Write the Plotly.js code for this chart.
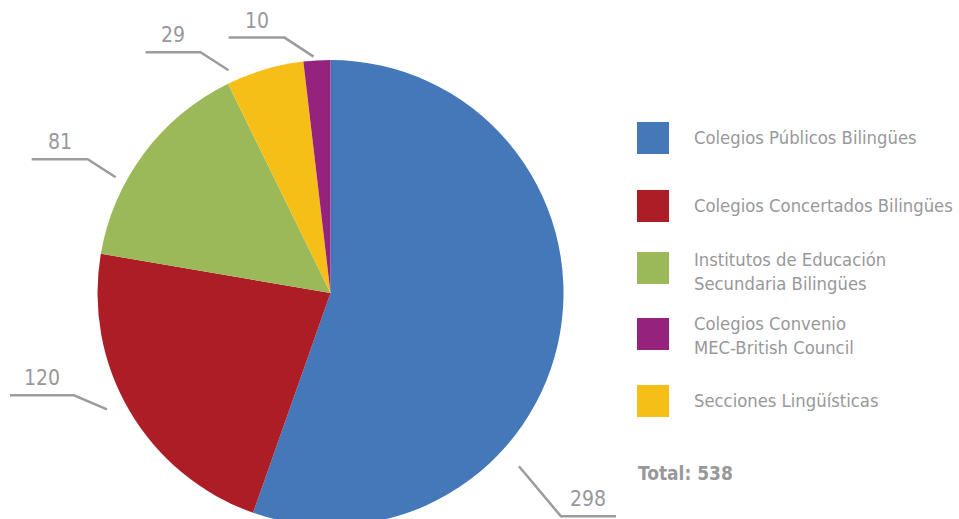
<!DOCTYPE html>
<html>
<head>
<meta charset="utf-8">
<script src="https://cdn.plot.ly/plotly-3.0.1.min.js"></script>
<style>html,body{margin:0;padding:0;overflow:hidden;background:#fff;}#chart{width:959px;height:540px;}</style>
</head>
<body>
<div id="chart"></div>
<script>
// ---- data ----
const sliceLabels = ["Colegios Públicos Bilingües", "Colegios Concertados Bilingües", "Institutos de Educación Secundaria Bilingües", "Secciones Lingüísticas", "Colegios Convenio MEC-British Council"];
const sliceValues = [298, 120, 81, 29, 10];
const sliceColors = ["#4478B9", "#AD1D25", "#9BB958", "#F5BF17", "#93237C"];
const legendLabels = ["Colegios Públicos Bilingües", "Colegios Concertados Bilingües", "Institutos de Educación<br>Secundaria Bilingües", "Colegios Convenio<br>MEC-British Council", "Secciones Lingüísticas"];
const legendColors = ["#4478B9", "#AD1D25", "#9BB958", "#93237C", "#F5BF17"];
const totalLabel = "Total: 538";

// ---- layout constants ----
const W = 959, H = 540;
const CX = 330.5, CY = 293, R = 233;
const FONT = "'Liberation Sans Narrow', 'Arial Narrow', 'DejaVu Sans Condensed', sans-serif";
const GRAY = "#98989B";
const px = x => x / W, py = y => 1 - y / H;

// label leader geometry per slice (angle clockwise from top, distance from centre, diagonal vector, horizontal length)
const leader = [
  {a: 132.6, d: 256, dx: 42, dy: 50, h: 55},
  {a: 242.5, d: 252, dx: -33, dy: -14, h: -64},
  {a: 298.3, d: 244, dx: -28, dy: -18, h: -56},
  {a: 335.4, d: 245, dx: -28, dy: -18, h: -55},
  {a: 355.9, d: 237, dx: -29, dy: -19, h: -56}
];

const shapes = [], annotations = [];
sliceValues.forEach((v, i) => {
  const g = leader[i];
  const t = g.a * Math.PI / 180;
  const x0 = CX + g.d * Math.sin(t), y0 = CY - g.d * Math.cos(t);
  const x1 = x0 + g.dx, y1 = y0 + g.dy;
  const x2 = x1 + g.h, y2 = y1;
  shapes.push({type: "path", xref: "paper", yref: "paper",
    path: `M ${px(x0)} ${py(y0)} L ${px(x1)} ${py(y1)} L ${px(x2)} ${py(y2)}`,
    line: {color: "#9C9C9F", width: 2.5}});
  annotations.push({xref: "paper", yref: "paper", x: px((x1 + x2) / 2), y: py(y1 - 17),
    text: String(v), showarrow: false, xanchor: "center", yanchor: "middle",
    font: {family: FONT, size: 21, color: GRAY}});
});

// custom legend
const legY = [[137], [205], [257, 285], [322, 349], [400]];
const boxY = [122, 190, 252, 318, 385];
legendLabels.forEach((lab, i) => {
  shapes.push({type: "rect", xref: "paper", yref: "paper",
    x0: px(637), x1: px(669), y0: py(boxY[i]), y1: py(boxY[i] + 32),
    fillcolor: legendColors[i], line: {width: 0}});
  const ys = legY[i];
  const yc = (ys[0] + ys[ys.length - 1]) / 2;
  annotations.push({xref: "paper", yref: "paper", x: px(692), y: py(yc),
    text: lab, showarrow: false, xanchor: "left", yanchor: "middle", align: "left",
    font: {family: FONT, size: 18.3, color: GRAY}});
});
annotations.push({xref: "paper", yref: "paper", x: px(636), y: py(473),
  text: "<b>" + totalLabel + "</b>", showarrow: false, xanchor: "left", yanchor: "middle",
  font: {family: FONT, size: 19, color: GRAY}});

const trace = {
  type: "pie", labels: sliceLabels, values: sliceValues, sort: false,
  direction: "clockwise", rotation: 0, textinfo: "none", hoverinfo: "none",
  marker: {colors: sliceColors, line: {width: 0}},
  domain: {x: [px(CX - R), px(CX + R)], y: [py(CY + R), py(CY - R)]},
  showlegend: false
};

Plotly.newPlot("chart", [trace], {
  width: W, height: H, margin: {l: 0, r: 0, t: 0, b: 0},
  paper_bgcolor: "#fff", plot_bgcolor: "#fff",
  shapes: shapes, annotations: annotations, showlegend: false
}, {staticPlot: true});
</script>
</body>
</html>
